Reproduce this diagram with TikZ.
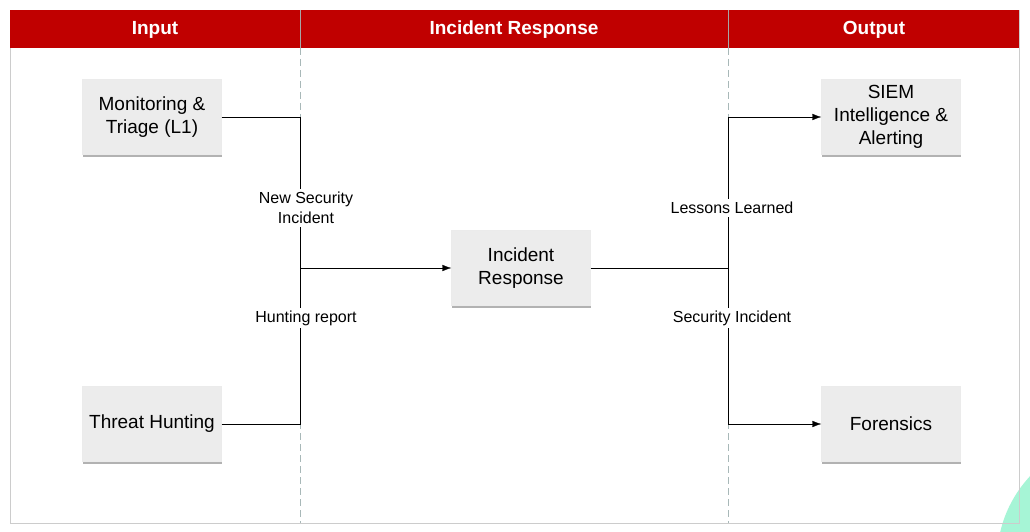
\documentclass[tikz,border=0pt]{standalone}
\usepackage{fontspec}
\setmainfont{Liberation Sans}
\usetikzlibrary{positioning,shadows,arrows.meta}
\definecolor{hdrred}{HTML}{C00000}
\definecolor{boxgray}{HTML}{ECECEC}
\definecolor{sepgray}{HTML}{A8B8B8}
\definecolor{mint}{HTML}{A6F5D6}
\begin{document}
\begin{tikzpicture}[x=1pt,y=-1pt,>={Latex[length=9pt,width=6.5pt]},
	box/.style={fill=boxgray,draw=black!8,minimum width=139pt,minimum height=75pt,align=center,
		font=\fontsize{19}{23}\selectfont,
		drop shadow={shadow xshift=0.5pt,shadow yshift=-2pt,fill=black,opacity=.3}},
	lbl/.style={fill=white,align=center,inner sep=3pt,font=\fontsize{16}{19.5}\selectfont},
	hdr/.style={text=white,font=\bfseries\fontsize{19}{20}\selectfont}]
		\useasboundingbox (0,0) rectangle (1030,532);
		% frame
		\fill[white] (10,10) rectangle (1019,523);
		\begin{scope}
		\clip (0,0) rectangle (1030,532);
		\fill[mint] (1120,560) circle[radius=123];
		\end{scope}
		\draw[black!20] (10,10) rectangle (1019,523);
		% header
		\fill[hdrred] (10,10) rectangle (1019,48);
		\foreach \x in {300,728}
		\draw[black!35] (\x,10) -- (\x,48);
		\foreach \x in {300,728}
		\draw[sepgray,dash pattern=on 7pt off 4pt] (\x,48) -- (\x,523);
		\node[hdr] (hin) at (155,30) {Input};
		\node[hdr] (hir) at (514,30) {Incident Response};
		\node[hdr] (hout) at (874,30) {Output};
		% boxes
		\node[box] (mon) at (152,117) {Monitoring \&\\Triage (L1)};
		\node[box] (hunt) at (152,424) {Threat Hunting};
		\node[box] (ir) at (521,268) {Incident\\Response};
		\node[box] (siem) at (891,117) {SIEM\\Intelligence \&\\Alerting};
		\node[box] (foren) at (891,424) {Forensics};
		% input lines
		\coordinate (jin) at (300,268);
		\draw (mon.east) -| (jin);
		\draw (hunt.east) -| (jin);
		\draw[->] (jin) -- (ir.west);
		% output lines
		\coordinate (jout) at (728,268);
		\draw (ir.east) -- (jout);
		\draw[->] (jout) |- (siem.west);
		\draw[->] (jout) |- (foren.west);
		% labels
		\node[lbl] (lnew) at (306,208) {New Security\\Incident};
		\node[lbl] (lhunt) at (306,318) {Hunting report};
		\node[lbl] (llessons) at (732,208) {Lessons Learned};
		\node[lbl] (lsec) at (732,318) {Security Incident};
\end{tikzpicture}
\end{document}
